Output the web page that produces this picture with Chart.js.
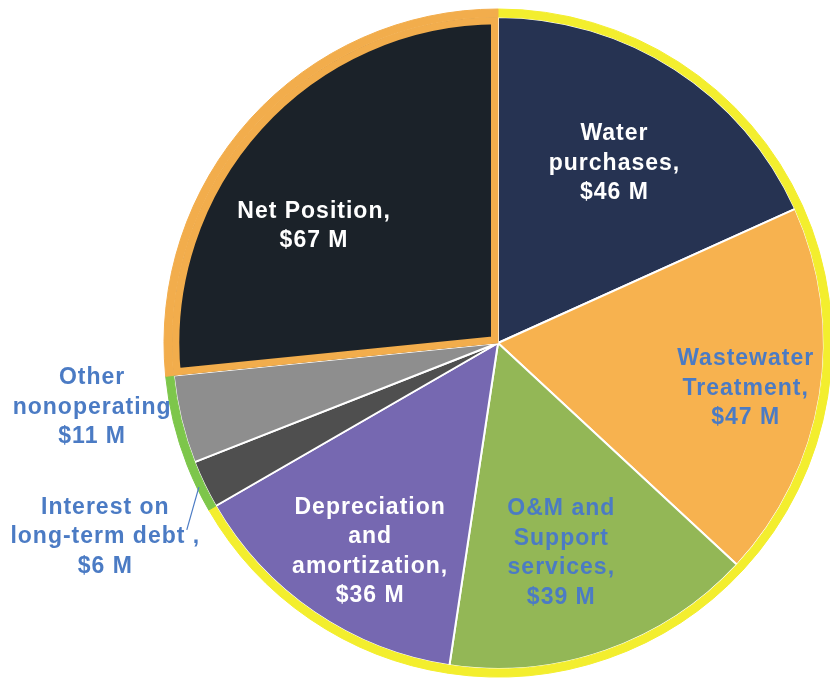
<!DOCTYPE html>
<html>
<head>
<meta charset="utf-8">
<script src="https://cdn.jsdelivr.net/npm/chart.js@4"></script>
<style>
  html, body { margin: 0; padding: 0; background: #ffffff; }
</style>
</head>
<body>
<canvas id="myChart" width="830" height="682"></canvas>
<script>
const ctx = document.getElementById('myChart');

const categories = [
  'Water purchases',
  'Wastewater Treatment',
  'O&M and Support services',
  'Depreciation and amortization',
  'Interest on long-term debt',
  'Other nonoperating',
  'Net Position'
];

// $ millions
const values = [46, 47, 39, 36, 6, 11, 67];

// how each label is broken on the picture (value line added below)
const labelLines = [
  ['Water', 'purchases,'],
  ['Wastewater', 'Treatment,'],
  ['O&M and', 'Support', 'services,'],
  ['Depreciation', 'and', 'amortization,'],
  ['Interest on', 'long-term debt ,'],
  ['Other', 'nonoperating'],
  ['Net Position,']
];

const sliceColors = ['#263352', '#f7b24f', '#93b756', '#7668b1', '#4f4f4f', '#8e8e8e', '#1b2229'];
const ringColors = ['#f3ee2e', '#f3ee2e', '#f3ee2e', '#f3ee2e', '#7dc64b', '#7dc64b', '#f2ad4c'];
const BLUE = '#4b7bc4';

// label placement: fraction of radius along the slice middle, plus a nudge
const labelStyle = [
  { r: 0.64, dx: 0, dy: 0, color: '#ffffff' },
  { r: 0.75, dx: 0, dy: 5, color: BLUE },
  { r: 0.66, dx: -10, dy: 2, color: BLUE },
  { r: 0.73, dx: 9, dy: 7, color: '#ffffff' },
  { r: 1.31, dx: 1, dy: 4, color: BLUE, leader: true },
  { r: 1.23, dx: -7, dy: -32, color: BLUE },
  { r: 0.66, dx: -21, dy: 31, color: '#ffffff' }
];

const sliceLabels = {
  id: 'sliceLabels',
  afterDatasetsDraw(chart) {
    const ring = chart.getDatasetMeta(0).data;
    const arcs = chart.getDatasetMeta(1).data;
    const c = chart.ctx;
    const lh = 29.5;
    c.save();
    c.font = 'bold 23px "Liberation Sans", Arial, sans-serif';
    c.letterSpacing = '1px';
    c.textAlign = 'center';
    c.textBaseline = 'middle';
    arcs.forEach((arc, i) => {
      const p = arc.getProps(['x', 'y', 'startAngle', 'endAngle'], true);
      const R = ring[i].outerRadius;
      const mid = (p.startAngle + p.endAngle) / 2;
      const st = labelStyle[i];
      const x = p.x + Math.cos(mid) * R * st.r + st.dx;
      const y = p.y + Math.sin(mid) * R * st.r + st.dy;
      const lines = labelLines[i].concat(['$' + values[i] + ' M']);
      c.fillStyle = st.color;
      lines.forEach((t, k) => {
        c.fillText(t, x + 0.5, y + (k - (lines.length - 1) / 2) * lh);
      });
      if (st.leader) {
        c.strokeStyle = BLUE;
        c.lineWidth = 1.2;
        c.beginPath();
        c.moveTo(x + 82, y - 7);
        c.lineTo(p.x + Math.cos(mid) * (R - 2), p.y + Math.sin(mid) * (R - 2));
        c.stroke();
      }
    });
    c.restore();
  }
};

new Chart(ctx, {
  type: 'pie',
  data: {
    labels: categories,
    datasets: [
      {
        data: values,
        backgroundColor: ringColors,
        borderColor: ringColors,
        borderWidth: 1,
        weight: 8,
        radius: 334
      },
      {
        data: values,
        backgroundColor: sliceColors,
        borderColor: values.map((v, i) => i === 6 ? '#f2ad4c' : '#ffffff'),
        borderWidth: values.map((v, i) => i === 6 ? 7 : 2),
        borderAlign: (c) => c.dataIndex === 6 ? 'inner' : 'center',
        weight: 326,
        radius: 334
      }
    ]
  },
  options: {
    responsive: false,
    animation: false,
    events: [],
    layout: {
      padding: { left: 166, right: 0, top: 4, bottom: 0 }
    },
    plugins: {
      legend: { display: false },
      tooltip: { enabled: false },
      title: { display: false }
    }
  },
  plugins: [sliceLabels]
});
</script>
</body>
</html>
